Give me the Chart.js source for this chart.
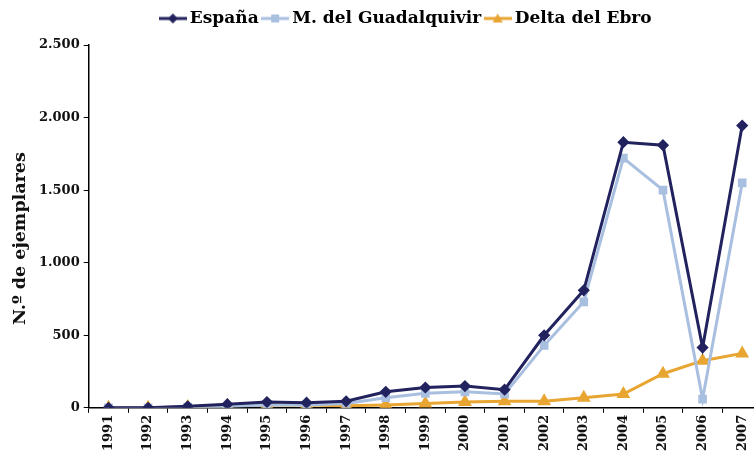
<!DOCTYPE html>
<html>
<head>
<meta charset="utf-8">
<script src="https://cdn.jsdelivr.net/npm/chart.js@4.4.1/dist/chart.umd.min.js"></script>
<style>
  html, body { margin: 0; padding: 0; background: #fff; overflow: hidden; }
  #wrap { width: 754px; height: 462px; overflow: hidden; }
</style>
</head>
<body>
<div id="wrap"><canvas id="chart" width="770" height="462"></canvas></div>
<script>
// years on the x axis
const years = ['1991', '1992', '1993', '1994', '1995', '1996', '1997', '1998', '1999',
  '2000', '2001', '2002', '2003', '2004', '2005', '2006', '2007'];

// N.º de ejemplares per series
const espana = [0, 0, 10, 25, 40, 35, 45, 110, 140, 150, 125, 500, 810, 1830, 1810, 415, 1945];
const guadalquivir = [0, 0, 5, 10, 20, 20, 30, 70, 100, 110, 95, 430, 730, 1720, 1500, 60, 1550];
const ebro = [0, 0, 5, 15, 20, 20, 15, 20, 30, 40, 45, 45, 70, 95, 235, 325, 375];

const yTicks = [0, 500, 1000, 1500, 2000, 2500];

const colEsp = '#22225e';
const colGua = '#a9bfe0';
const colEbro = '#e8a531';

function fmt(v) {
  return String(v).replace(/\B(?=(\d{3})+(?!\d))/g, '.');
}

// small legend swatch: line with marker in the middle
function swatch(color, style) {
  const c = document.createElement('canvas');
  c.width = 28; c.height = 12;
  const g = c.getContext('2d');
  g.strokeStyle = color; g.fillStyle = color; g.lineWidth = 3;
  g.beginPath(); g.moveTo(0, 6); g.lineTo(28, 6); g.stroke();
  g.beginPath();
  if (style === 'rectRot') { g.moveTo(14, 1); g.lineTo(19, 6); g.lineTo(14, 11); g.lineTo(9, 6); }
  else if (style === 'triangle') { g.moveTo(14, 1); g.lineTo(19, 10); g.lineTo(9, 10); }
  else { g.rect(10, 2, 8, 8); }
  g.closePath(); g.fill();
  return c;
}

// extra room under the legend and a small shift to the right
const legendTweak = {
  id: 'legendTweak',
  beforeInit(chart) {
    const fit = chart.legend.fit;
    chart.legend.fit = function () {
      fit.call(this);
      this.height += 8;
    };
  },
  afterLayout(chart) {
    chart.legend.left += 20;
    chart.legend.right += 20;
  }
};

const serif = '"DejaVu Serif", serif';

new Chart(document.getElementById('chart').getContext('2d'), {
  type: 'line',
  data: {
    labels: years,
    datasets: [
      { label: 'España', data: espana, borderColor: colEsp, backgroundColor: colEsp,
        borderWidth: 3, pointStyle: 'rectRot', pointRadius: 4, tension: 0 },
      { label: 'M. del Guadalquivir', data: guadalquivir, borderColor: colGua, backgroundColor: colGua,
        borderWidth: 3, pointStyle: 'rect', pointRadius: 4, tension: 0 },
      { label: 'Delta del Ebro', data: ebro, borderColor: colEbro, backgroundColor: colEbro,
        borderWidth: 3, pointStyle: 'triangle', pointRadius: 5, tension: 0 }
    ]
  },
  plugins: [legendTweak],
  options: {
    responsive: false,
    animation: false,
    layout: { padding: { top: 2, right: 0, left: 6, bottom: 9 } },
    plugins: {
      tooltip: { enabled: false },
      legend: {
        position: 'top',
        labels: {
          usePointStyle: true,
          boxWidth: 28,
          color: '#111',
          font: { family: serif, size: 17, weight: 'bold' },
          padding: 8,
          generateLabels: function (chart) {
            const styles = ['rectRot', 'rect', 'triangle'];
            return chart.data.datasets.map((ds, i) => ({
              text: ds.label,
              pointStyle: swatch(ds.borderColor, styles[i]),
              fillStyle: ds.borderColor,
              strokeStyle: ds.borderColor,
              lineWidth: 0,
              datasetIndex: i,
              hidden: false
            }));
          }
        }
      }
    },
    scales: {
      x: {
        offset: true,
        grid: { offset: true, drawOnChartArea: false, drawTicks: true, tickLength: 5, color: '#000' },
        border: { color: '#000', width: 1.5 },
        ticks: {
          minRotation: 90, maxRotation: 90, autoSkip: false,
          color: '#111', padding: 2,
          font: { family: serif, size: 13, weight: 'bold' }
        }
      },
      y: {
        min: 0, max: 2500,
        afterBuildTicks: function (axis) { axis.ticks = yTicks.map(v => ({ value: v })); },
        grid: { drawOnChartArea: false, drawTicks: true, tickLength: 5, color: '#000' },
        border: { color: '#000', width: 1.5 },
        ticks: {
          color: '#111', padding: 4,
          font: { family: serif, size: 13, weight: 'bold' },
          callback: v => fmt(v)
        },
        title: {
          display: true, text: 'N.º de ejemplares\u00a0\u00a0\u00a0\u00a0', color: '#111',
          font: { family: serif, size: 17.5, weight: 'bold' }, padding: 4
        }
      }
    }
  }
});
</script>
</body>
</html>
